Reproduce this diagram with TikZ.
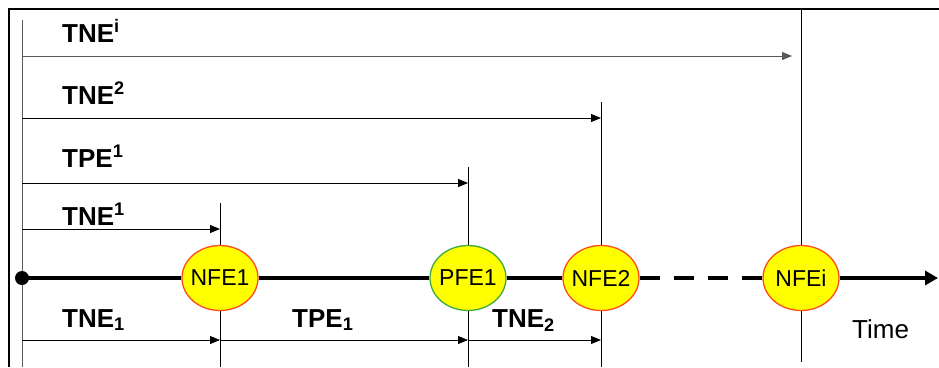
\documentclass[tikz,border=0pt]{standalone}
\usepackage{fontspec}
\setmainfont{Liberation Sans}
\usetikzlibrary{arrows.meta,positioning,calc,shapes.geometric}
\definecolor{ink}{HTML}{000000}
\definecolor{greyLine}{HTML}{5A5A5A}
\definecolor{evFill}{HTML}{FFFF00}
\definecolor{negC}{HTML}{FF4A1C}
\definecolor{posC}{HTML}{3CAA3C}
\tikzset{>={Triangle[length=10pt,width=8pt]},
  tlab/.style={font=\fontsize{26}{30}\selectfont\bfseries,text=ink,anchor=base west,inner sep=0pt},
  timelab/.style={font=\fontsize{26}{30}\selectfont,text=ink,anchor=base west,inner sep=0pt},
  evt/.style={ellipse,line width=1.3pt,fill=evFill,minimum width=76pt,minimum height=65pt,
    inner xsep=-4pt,inner ysep=0pt,font=\fontsize{23}{26}\selectfont,text=ink},
  spanarr/.style={->,line width=0.9pt,draw=ink},
  evline/.style={line width=1pt,draw=ink},
  tline/.style={line width=4.2pt,draw=ink},
  boxline/.style={line width=2pt,draw=ink}}

\begin{document}
\begin{tikzpicture}[x=1pt,y=-1pt]
\useasboundingbox (0,0) rectangle (939,367);
% frame and start line
\draw[boxline] (9,367) -- (9,9) -- (939,9);
\coordinate (s0) at (22,20);\coordinate (s1) at (22,367);
\draw[line width=1pt,greyLine] (s0) -- (s1);
% event marks
\coordinate (aT) at (220,203);\coordinate (aB) at (220,367);
\coordinate (bT) at (468,167);\coordinate (bB) at (468,367);
\coordinate (cT) at (601,102);\coordinate (cB) at (601,367);
\coordinate (iT) at (801,10);\coordinate (iB) at (801,362);
\draw[evline] (aT) -- (aB);\draw[evline] (bT) -- (bB);
\draw[evline] (cT) -- (cB);\draw[evline] (iT) -- (iB);
% time axis
\node[circle,fill=ink,inner sep=0pt,minimum size=14pt] (org) at (22,278) {};
\node[evt,draw=negC] (nfeA) at (220,278) {NFE1};
\node[evt,draw=posC] (pfeA) at (468,278) {PFE1};
\node[evt,draw=negC] (nfeB) at (601,278) {NFE2};
\node[evt,draw=negC] (nfeI) at (801,278) {NFEi};
\coordinate (tEnd) at (938,278);
\draw[tline] (org.center) -- (nfeA.west);
\draw[tline] (nfeA.east) -- (pfeA.west);
\draw[tline] (pfeA.east) -- (nfeB.west);
\draw[tline,dash pattern=on 20pt off 14pt] (nfeB.east) -- (nfeI.west);
\draw[tline,-{Triangle[length=13pt,width=14pt]}] (nfeI.east) -- (tEnd);
% cumulative spans
\coordinate (uA) at (22,56);\coordinate (uAe) at (792,56);
\coordinate (uB) at (22,118);\coordinate (uBe) at (601,118);
\coordinate (uC) at (22,183);\coordinate (uCe) at (468,183);
\coordinate (uD) at (22,229);\coordinate (uDe) at (220,229);
\draw[spanarr,draw=greyLine] (uA) -- (uAe);
\draw[spanarr] (uB) -- (uBe);
\draw[spanarr] (uC) -- (uCe);
\draw[spanarr] (uD) -- (uDe);
\node[tlab] (lA) at (62,42) {TNE\textsuperscript{i}};
\node[tlab] (lB) at (62,104) {TNE\textsuperscript{2}};
\node[tlab] (lC) at (62,167) {TPE\textsuperscript{1}};
\node[tlab] (lD) at (62,225) {TNE\textsuperscript{1}};
% interval spans
\coordinate (vA) at (22,340);\coordinate (vB) at (220,340);
\coordinate (vC) at (468,340);\coordinate (vD) at (601,340);
\draw[spanarr] (vA) -- (vB);\draw[spanarr] (vB) -- (vC);\draw[spanarr] (vC) -- (vD);
\node[tlab] (mA) at (62,327) {TNE\textsubscript{1}};
\node[tlab] (mB) at (292,327) {TPE\textsubscript{1}};
\node[tlab] (mC) at (492,327) {TNE\textsubscript{2}};
\node[timelab] (tlab) at (852,338) {Time};
\end{tikzpicture}
\end{document}
